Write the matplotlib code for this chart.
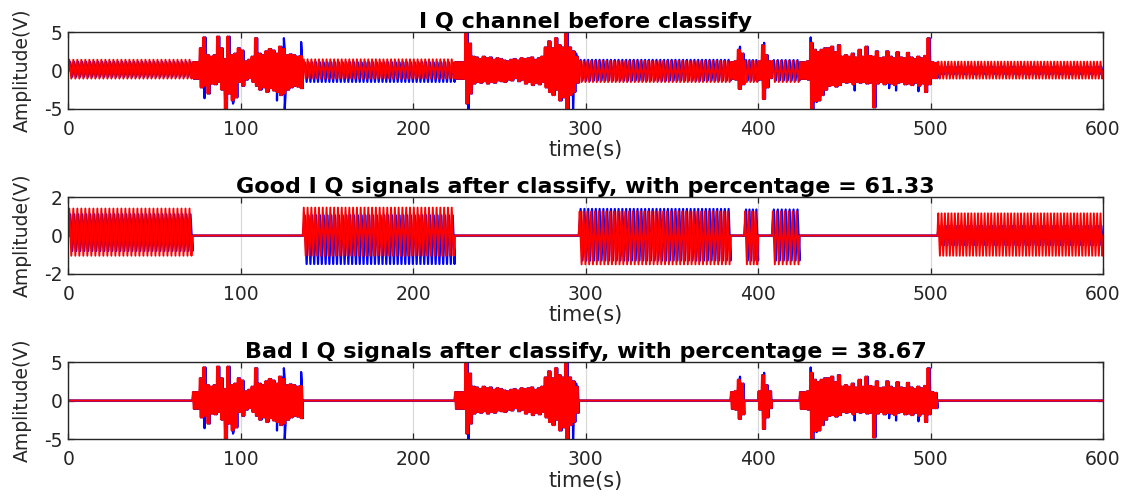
import numpy as np
import matplotlib
matplotlib.use('Agg')
import matplotlib.pyplot as plt

plt.rcParams['font.family'] = ['DejaVu Sans']
plt.rcParams['axes.unicode_minus'] = False

# Cortes entre tramos (s) y clase asignada a cada tramo
cortes = [0, 72, 136, 224, 296, 384, 392, 400, 408, 424, 504, 600]
clases = ['good', 'bad', 'good', 'bad', 'good', 'bad', 'good', 'bad', 'good', 'bad', 'good']

# Tramos buenos: numero de ciclos y picos de Q (rojo) e I (azul)
ciclos_buenos = [31, 40, 40, 4, 7, 50]
q_max_buenos = [1.40, 1.45, 1.25, 1.25, 1.25, 1.15]
q_min_buenos = [-1.05, -1.05, -1.50, -1.50, -1.50, -1.05]
i_max_buenos = [1.10, 1.05, 1.38, 1.35, 1.35, 0.50]
i_min_buenos = [-0.80, -1.48, -1.30, -1.30, -1.30, -0.50]

# Tramos malos: maximo y minimo de Q cada 2 s
q_sup_malos = [
    [1.1, 1.1, 2.9, 4.3, 2.0, 1.8, 2.0, 4.4, 2.9, 1.5, 4.4, 2.0, 2.2, 2.9, 2.6, 1.2,
     1.4, 1.8, 4.2, 2.2, 2.0, 2.5, 2.8, 2.6, 2.2, 3.1, 2.8, 2.0, 2.1, 2.0, 1.8, 1.9],
    [1.1, 1.1, 1.1, 5.1, 3.5, 1.8, 1.7, 1.5, 1.8, 1.6, 1.7, 1.4, 1.6, 1.5, 1.3, 1.2,
     1.4, 1.5, 1.3, 1.6, 1.5, 1.6, 1.7, 1.4, 1.6, 1.8, 3.0, 3.8, 2.9, 4.2, 3.3, 3.0,
     5.0, 3.0, 2.5, 1.8],
    [1.1, 1.2, 2.7, 2.2],
    [1.2, 3.3, 2.0, 1.2],
    [1.1, 1.1, 1.2, 3.6, 2.7, 2.4, 2.7, 2.9, 2.9, 3.1, 2.4, 3.3, 1.8, 2.0, 1.8, 2.2,
     1.7, 2.7, 1.8, 3.1, 1.9, 1.8, 2.5, 1.6, 1.7, 2.5, 1.8, 1.6, 2.4, 1.7, 1.6, 2.3,
     1.7, 1.5, 1.8, 1.6, 1.9, 4.2, 1.1, 1.0],
]
q_inf_malos = [
    [-1.1, -1.1, -2.2, -2.0, -3.0, -1.7, -1.8, -1.5, -2.5, -5.0, -3.0, -3.9, -3.5, -1.5, -2.0, -1.2,
     -1.0, -1.5, -2.0, -2.5, -2.2, -2.8, -2.3, -2.6, -2.8, -3.2, -3.0, -2.5, -2.2, -2.0, -2.1, -2.3],
    [-1.1, -1.1, -1.1, -4.3, -3.0, -1.7, -1.5, -1.6, -1.4, -1.7, -1.5, -1.6, -1.3, -1.4, -1.5, -1.2,
     -1.3, -1.0, -1.4, -1.2, -1.7, -1.5, -1.9, -1.6, -1.8, -1.5, -2.2, -2.8, -3.2, -2.5, -3.9, -3.5,
     -5.0, -3.2, -2.8, -1.6],
    [-1.1, -1.2, -2.4, -1.8],
    [-1.2, -3.7, -2.2, -1.0],
    [-1.1, -1.1, -1.2, -5.2, -4.0, -3.9, -3.2, -2.5, -2.0, -1.9, -2.1, -1.9, -1.5, -1.6, -1.5, -1.8,
     -1.5, -1.6, -1.5, -1.7, -1.6, -4.8, -1.7, -1.5, -1.8, -1.6, -1.7, -1.9, -1.6, -1.5, -1.8, -1.7,
     -1.9, -1.6, -2.0, -1.7, -2.8, -1.8, -1.0, -1.0],
]

# Picos de I que sobresalen por encima de Q (tiempo, valor)
picos_i_t = [79.0, 95.5, 121.0, 125.0, 125.5, 135.0, 232.0, 292.7, 294.5,
             389.5, 403.5, 430.5, 434.0, 456.0, 476.0, 480.0, 493.0]
picos_i_v = [-3.6, -4.3, -3.9, 4.2, -5.0, 3.7, -5.1, -5.1, 2.2,
             3.1, 3.6, 4.3, -4.1, -2.6, -2.3, -2.6, -2.7]

titulos = ['I Q channel before classify',
           'Good I Q signals after classify, with percentage = 61.33',
           'Bad I Q signals after classify, with percentage = 38.67']
limites_y = [5, 2, 5]


def tramo_bueno(a, b, n, vmax, vmin, desfase):
    dt = (b - a) / (2 * n)
    k = np.arange(2 * n)
    t = a + dt * (k + 0.5 + desfase)
    v = np.where(k % 2 == 0, vmax, vmin)
    return np.r_[a, t, b], np.r_[0.0, v, 0.0]


def tramo_malo(a, b, sup, inf, desfase):
    # cuatro vertices por bloque de 2 s: max, min, max, min
    t0 = a + 2 * np.arange(len(sup))
    t = np.ravel(np.column_stack([t0 + 0.25, t0 + 0.75, t0 + 1.25, t0 + 1.75])) + desfase
    v = np.ravel(np.column_stack([sup, inf, sup, inf]))
    return np.r_[a, t, b], np.r_[0.0, v, 0.0]


def senal(canal, incluir):
    ts, vs = [], []
    ib, im = 0, 0
    for k, clase in enumerate(clases):
        a, b = cortes[k], cortes[k + 1]
        if clase == 'good':
            if canal == 'Q':
                t, v = tramo_bueno(a, b, ciclos_buenos[ib], q_max_buenos[ib], q_min_buenos[ib], 0.0)
            else:
                t, v = tramo_bueno(a, b, ciclos_buenos[ib], i_max_buenos[ib], i_min_buenos[ib], 0.5)
            ib += 1
        else:
            desfase = 0.0 if canal == 'Q' else 0.25
            t, v = tramo_malo(a, b, q_sup_malos[im], q_inf_malos[im], desfase)
            if canal == 'I':
                pt = np.array(picos_i_t)
                pv = np.array(picos_i_v)
                sel = (pt > a) & (pt < b)
                t = np.r_[t, pt[sel]]
                v = np.r_[v, pv[sel]]
                orden = np.argsort(t, kind='stable')
                t, v = t[orden], v[orden]
            im += 1
        if clase not in incluir:
            t, v = np.array([a, b]), np.array([0.0, 0.0])
        ts.append(t)
        vs.append(v)
    return np.concatenate(ts), np.concatenate(vs)


paneles = [('good', 'bad'), ('good',), ('bad',)]

fig = plt.figure(figsize=(11.33, 4.97), dpi=100)
abajos = [0.7807, 0.4487, 0.1167]

for p in range(3):
    ax = fig.add_axes([0.0603, abajos[p], 0.9132, 0.1549])
    ti, vi = senal('I', paneles[p])
    tq, vq = senal('Q', paneles[p])
    ax.plot(ti, vi, color='#0000ff', lw=1.6)
    ax.plot(tq, vq, color='#ff0000', lw=1.4)
    # linea de cero en los tramos descartados
    ax.axhline(0, color='#d0304a', lw=1.3, zorder=1.5)

    ax.set_xlim(0, 600)
    ax.set_ylim(-limites_y[p], limites_y[p])
    ax.set_xticks(range(0, 601, 100))
    ax.set_yticks([-limites_y[p], 0, limites_y[p]])
    ax.grid(True, color='#d9d9d9', lw=0.9)
    ax.set_axisbelow(True)
    ax.tick_params(direction='in', length=4, width=0.9, top=True, right=True,
                   labelsize=13.5, colors='#262626')
    ax.tick_params(axis='x', pad=8)
    ax.tick_params(axis='y', pad=4)
    for s in ax.spines.values():
        s.set_color('#262626')
        s.set_linewidth(1.0)

    ax.set_title(titulos[p], fontsize=16, fontweight='bold', pad=3)
    ax.set_xlabel('time(s)', fontsize=15, color='#262626', labelpad=1)
    ax.set_ylabel('Amplitude(V)', fontsize=13.5, color='#262626', labelpad=9)

fig.savefig('out.png', dpi=100)
